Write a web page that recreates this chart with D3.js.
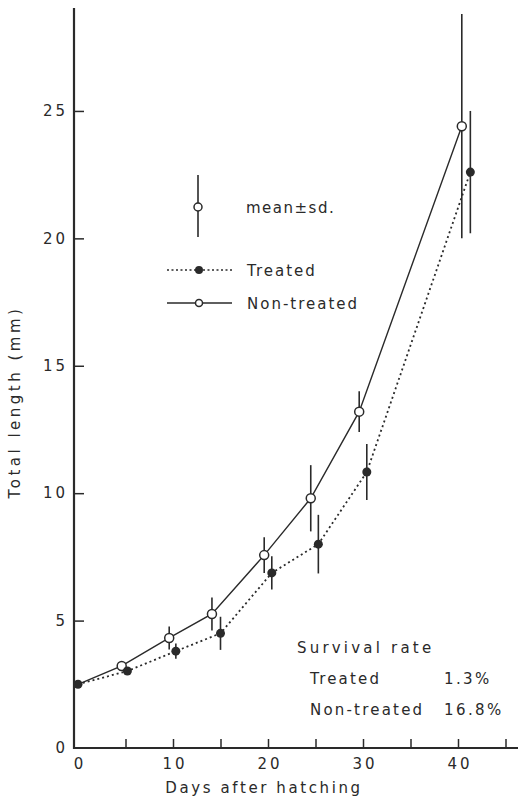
<!DOCTYPE html>
<html>
<head>
<meta charset="utf-8">
<script src="https://cdn.jsdelivr.net/npm/d3@7"></script>
<style>
  body { margin: 0; background: #fff; }
  text { font-family: "DejaVu Sans", sans-serif; fill: #2a2a2a; }
</style>
</head>
<body>
<div id="chart"></div>
<script>
// size of the picture
var width = 518;
var height = 802;

// data (days after hatching, total length mm, sd)
var nonTreatedDays = [0, 4.6, 9.6, 14.1, 19.6, 24.5, 29.6, 40.4];
var nonTreatedMean = [2.5, 3.22, 4.32, 5.26, 7.57, 9.8, 13.2, 24.4];
var nonTreatedSd   = [0.05, 0.1, 0.45, 0.65, 0.7, 1.3, 0.8, 4.4];

var treatedDays = [0, 5.2, 10.3, 15.0, 20.4, 25.3, 30.4, 41.3];
var treatedMean = [2.5, 3.02, 3.8, 4.5, 6.87, 8.0, 10.83, 22.6];
var treatedSd   = [0.05, 0.08, 0.3, 0.65, 0.65, 1.15, 1.1, 2.4];

var xTicks = [0, 5, 10, 15, 20, 25, 30, 35, 40, 45];
var xLabels = [0, 10, 20, 30, 40];
var yTicks = [0, 5, 10, 15, 20, 25];

var survivalLabels = ["Treated", "Non-treated"];
var survivalRates = ["1.3%", "16.8%"];

var ink = "#2a2a2a";

var svg = d3.select("#chart")
    .append("svg")
    .attr("width", width)
    .attr("height", height);

// scales
var x = d3.scaleLinear().domain([0, 45]).range([78, 505.5]);
var y = d3.scaleLinear().domain([0, 29.04]).range([748, 8]);

// y axis (ticks point inside)
var yAxis = d3.axisLeft(y)
    .tickValues(yTicks)
    .tickSize(-10)
    .tickPadding(9)
    .tickFormat(d3.format("d"));

var gy = svg.append("g")
    .attr("transform", "translate(74,0)")
    .call(yAxis);
gy.select(".domain").remove();
gy.selectAll(".tick line").attr("stroke", ink).attr("stroke-width", 1.5)
    .filter(function(d) { return d === 0; }).remove();
gy.selectAll(".tick text")
    .style("font-size", "15px")
    .attr("letter-spacing", "3")
    .attr("dx", "3")
    .attr("fill", ink);

// x axis
var xAxis = d3.axisBottom(x)
    .tickValues(xTicks)
    .tickSize(-9)
    .tickPadding(10)
    .tickFormat(function(d) { return xLabels.indexOf(d) >= 0 ? d : ""; });

var gx = svg.append("g")
    .attr("transform", "translate(0,748)")
    .call(xAxis);
gx.select(".domain").remove();
gx.selectAll(".tick line").attr("stroke", ink).attr("stroke-width", 1.5)
    .filter(function(d) { return d === 0; }).remove();
gx.selectAll(".tick text")
    .style("font-size", "15px")
    .attr("letter-spacing", "3")
    .attr("dx", "1.5")
    .attr("fill", ink);

// axis lines
svg.append("line")
    .attr("x1", 74).attr("x2", 74)
    .attr("y1", 8).attr("y2", 749)
    .attr("stroke", ink).attr("stroke-width", 2.2);
svg.append("line")
    .attr("x1", 73).attr("x2", width)
    .attr("y1", 748).attr("y2", 748)
    .attr("stroke", ink).attr("stroke-width", 2.2);

// axis titles
svg.append("text")
    .attr("transform", "translate(20,402) rotate(-90)")
    .attr("text-anchor", "middle")
    .attr("letter-spacing", "3.5")
    .style("font-size", "15px")
    .text("Total length (mm)");

svg.append("text")
    .attr("x", 264)
    .attr("y", 793)
    .attr("text-anchor", "middle")
    .attr("letter-spacing", "2.6")
    .style("font-size", "15px")
    .text("Days after hatching");

// build point objects
var nonTreated = nonTreatedDays.map(function(d, i) {
    return { day: d, mean: nonTreatedMean[i], sd: nonTreatedSd[i] };
});
var treated = treatedDays.map(function(d, i) {
    return { day: d, mean: treatedMean[i], sd: treatedSd[i] };
});

var line = d3.line()
    .x(function(d) { return x(d.day); })
    .y(function(d) { return y(d.mean); });

// lines
svg.append("path")
    .datum(treated)
    .attr("d", line)
    .attr("fill", "none")
    .attr("stroke", ink)
    .attr("stroke-width", 1.8)
    .attr("stroke-dasharray", "2,3");

svg.append("path")
    .datum(nonTreated)
    .attr("d", line)
    .attr("fill", "none")
    .attr("stroke", ink)
    .attr("stroke-width", 1.4);

// error bars
function errorBars(data, cls) {
    svg.selectAll("line." + cls)
        .data(data)
        .enter()
        .append("line")
        .attr("class", cls)
        .attr("x1", function(d) { return x(d.day); })
        .attr("x2", function(d) { return x(d.day); })
        .attr("y1", function(d) { return y(d.mean + d.sd); })
        .attr("y2", function(d) { return y(d.mean - d.sd); })
        .attr("stroke", ink)
        .attr("stroke-width", 1.6);
}
errorBars(nonTreated, "sdN");
errorBars(treated, "sdT");

// markers
svg.selectAll("circle.nt")
    .data(nonTreated.slice(1))
    .enter()
    .append("circle")
    .attr("class", "nt")
    .attr("cx", function(d) { return x(d.day); })
    .attr("cy", function(d) { return y(d.mean); })
    .attr("r", 4.5)
    .attr("fill", "#fff")
    .attr("stroke", ink)
    .attr("stroke-width", 1.5);

svg.selectAll("circle.tr")
    .data(treated)
    .enter()
    .append("circle")
    .attr("class", "tr")
    .attr("cx", function(d) { return x(d.day); })
    .attr("cy", function(d) { return y(d.mean); })
    .attr("r", 4.5)
    .attr("fill", ink);

// legend
var lg = svg.append("g");
lg.append("line")
    .attr("x1", 198).attr("x2", 198)
    .attr("y1", 175).attr("y2", 237)
    .attr("stroke", ink).attr("stroke-width", 1.6);
lg.append("circle")
    .attr("cx", 198).attr("cy", 207).attr("r", 4)
    .attr("fill", "#fff").attr("stroke", ink).attr("stroke-width", 1.5);
lg.append("text")
    .attr("x", 246).attr("y", 213)
    .attr("letter-spacing", "1.5")
    .style("font-size", "15px")
    .text("mean\u00b1sd.");

lg.append("line")
    .attr("x1", 167).attr("x2", 232)
    .attr("y1", 270).attr("y2", 270)
    .attr("stroke", ink).attr("stroke-width", 1.5)
    .attr("stroke-dasharray", "2,2.5");
lg.append("circle")
    .attr("cx", 199).attr("cy", 270).attr("r", 4)
    .attr("fill", ink);
lg.append("text")
    .attr("x", 247).attr("y", 276)
    .attr("letter-spacing", "2")
    .style("font-size", "15px")
    .text("Treated");

lg.append("line")
    .attr("x1", 167).attr("x2", 232)
    .attr("y1", 303).attr("y2", 303)
    .attr("stroke", ink).attr("stroke-width", 1.5);
lg.append("circle")
    .attr("cx", 199).attr("cy", 303).attr("r", 3.5)
    .attr("fill", "#fff").attr("stroke", ink).attr("stroke-width", 1.5);
lg.append("text")
    .attr("x", 247).attr("y", 309)
    .attr("letter-spacing", "2")
    .style("font-size", "15px")
    .text("Non-treated");

// survival rate box
svg.append("text")
    .attr("x", 297).attr("y", 653)
    .attr("letter-spacing", "3.2")
    .style("font-size", "15px")
    .text("Survival rate");

survivalLabels.forEach(function(lab, i) {
    svg.append("text")
        .attr("x", 310).attr("y", 684 + i * 31)
        .attr("letter-spacing", "2.2")
        .style("font-size", "15px")
        .text(lab);
    svg.append("text")
        .attr("x", 444).attr("y", 684 + i * 31)
        .attr("letter-spacing", "2.4")
        .style("font-size", "15px")
        .text(survivalRates[i]);
});
</script>
</body>
</html>
